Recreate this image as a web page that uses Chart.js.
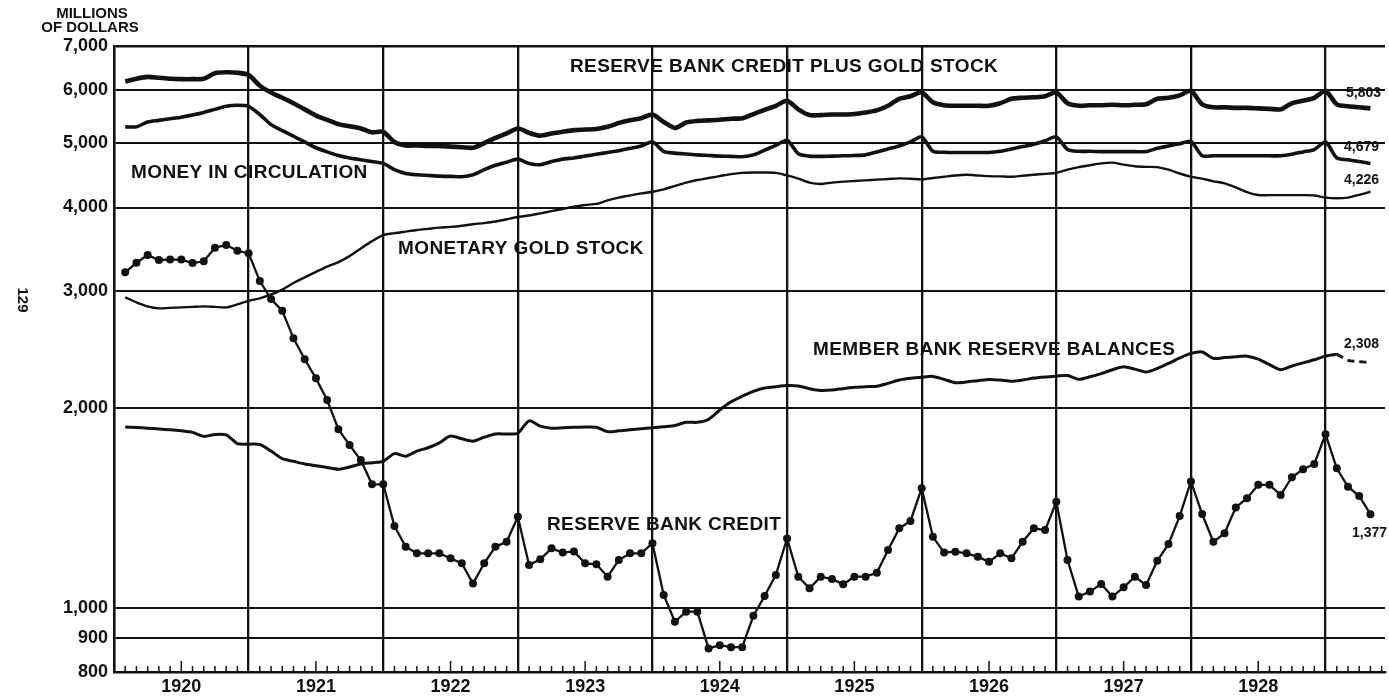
<!DOCTYPE html>
<html>
<head>
<meta charset="utf-8">
<title>Reserve bank credit, gold stock, money in circulation, 1920-1929</title>
<script src="https://cdn.jsdelivr.net/npm/chart.js@4.4.1/dist/chart.umd.min.js"></script>
<style>
    html, body { margin: 0; padding: 0; background: #fff; }
    #chart { display: block; }
</style>
</head>
<body>
<canvas id="chart" width="1389" height="697"></canvas>
<script>
// monthly figures, end of month, Jan 1920 .. Apr 1929 (millions of dollars)
const yearLabels = ["1920", "1921", "1922", "1923", "1924", "1925", "1926", "1927", "1928"];
const yTickValues = [800, 900, 1000, 2000, 3000, 4000, 5000, 6000, 7000];

const creditPlusGold = [
    6190, 6250, 6290, 6270, 6250, 6240, 6240, 6250, 6370, 6390, 6380, 6330,
    6100, 5960, 5850, 5740, 5620, 5500, 5420, 5340, 5300, 5260, 5190, 5200,
    5020, 4960, 4960, 4950, 4950, 4940, 4930, 4920, 5000, 5090, 5170, 5260,
    5180, 5130, 5170, 5200, 5230, 5240, 5250, 5290, 5360, 5410, 5450, 5520,
    5380, 5270, 5370, 5400, 5410, 5420, 5440, 5450, 5530, 5610, 5690, 5790,
    5620, 5510, 5510, 5520, 5520, 5530, 5560, 5600, 5690, 5830, 5880, 5960,
    5760, 5700, 5690, 5690, 5690, 5690, 5740, 5830, 5850, 5860, 5880, 5960,
    5740, 5690, 5700, 5700, 5710, 5700, 5710, 5720, 5830, 5850, 5900, 5990,
    5720, 5660, 5660, 5650, 5650, 5640, 5630, 5620, 5740, 5790, 5850, 5990,
    5720, 5680, 5660, 5640
];

const moneyInCirculation = [
    5290, 5290, 5380, 5410, 5440, 5470, 5510, 5560, 5620, 5680, 5700, 5680,
    5520, 5330, 5220, 5120, 5020, 4920, 4850, 4790, 4750, 4720, 4690, 4660,
    4560, 4500, 4480, 4470, 4460, 4455, 4450, 4480, 4560, 4630, 4680, 4730,
    4660, 4640, 4690, 4730, 4750, 4780, 4810, 4840, 4870, 4910, 4950, 5020,
    4860, 4830, 4815, 4800, 4790, 4780, 4775, 4770, 4800, 4880, 4960, 5050,
    4820, 4780, 4775, 4780, 4785, 4790, 4800, 4850, 4900, 4950, 5020, 5110,
    4860, 4845, 4840, 4840, 4840, 4840, 4860, 4900, 4940, 4980, 5040, 5110,
    4890, 4860, 4860, 4855, 4855, 4855, 4855, 4855, 4910, 4950, 4990, 5030,
    4785, 4785, 4785, 4785, 4785, 4785, 4785, 4785, 4810, 4850, 4890, 5020,
    4750, 4720, 4690, 4660
];

const goldStock = [
    2930, 2880, 2840, 2820, 2825, 2830, 2835, 2840, 2835, 2830, 2860, 2895,
    2920, 2960, 3010, 3080, 3140, 3200, 3260, 3310, 3380, 3470, 3560, 3636,
    3660, 3680, 3700, 3715, 3730, 3740, 3755, 3775, 3790, 3810, 3840, 3870,
    3890, 3920, 3950, 3980, 4010, 4035, 4050, 4100, 4140, 4170, 4200, 4224,
    4260, 4310, 4360, 4400, 4430, 4460, 4490, 4510, 4515, 4515, 4510, 4470,
    4420, 4360, 4340, 4360, 4375, 4385, 4395, 4405, 4415, 4425, 4420, 4410,
    4430, 4450, 4470, 4480, 4470, 4460, 4455, 4450, 4465, 4480, 4495, 4510,
    4560, 4600, 4630, 4660, 4673, 4640, 4615, 4605, 4600, 4560, 4500, 4451,
    4420, 4380, 4350, 4290, 4220, 4177, 4175, 4175, 4175, 4175, 4170, 4140,
    4130, 4140, 4180, 4224
];

const memberReserves = [
    1870, 1866, 1862, 1857, 1852, 1845, 1835, 1810, 1822, 1820, 1765, 1762,
    1760, 1720, 1675, 1660, 1645, 1635, 1625, 1615, 1628, 1645, 1652, 1660,
    1705, 1690, 1720, 1740, 1770, 1812, 1795, 1780, 1805, 1825, 1825, 1830,
    1910, 1875, 1862, 1865, 1868, 1870, 1868, 1840, 1845, 1852, 1858, 1865,
    1872, 1880, 1900, 1900, 1920, 1983, 2040, 2080, 2115, 2140, 2150, 2158,
    2155, 2135, 2122, 2125, 2135, 2145, 2150, 2153, 2175, 2200, 2213, 2222,
    2228, 2205, 2180, 2185, 2195, 2205, 2200, 2190, 2200, 2215, 2224, 2230,
    2235, 2206, 2225, 2250, 2280, 2304, 2285, 2262, 2290, 2330, 2375, 2413,
    2425, 2372, 2378, 2385, 2390, 2365, 2320, 2280, 2310, 2335, 2360, 2390,
    2403, 2355, 2345, 2337
];

const reserveBankCredit = [
    3195, 3303, 3392, 3335, 3340, 3340, 3300, 3320, 3480, 3512, 3443, 3413,
    3100, 2913, 2796, 2542, 2364, 2213, 2053, 1855, 1756, 1667, 1533, 1533,
    1327, 1235, 1207, 1207, 1207, 1186, 1166, 1087, 1166, 1235, 1256, 1370,
    1159, 1182, 1228, 1210, 1215, 1166, 1162, 1113, 1179, 1207, 1207, 1250,
    1045, 952, 986, 986, 868, 878, 872, 872, 972, 1041, 1120, 1271,
    1113, 1069, 1113, 1104, 1084, 1113, 1113, 1128, 1221, 1316, 1350, 1512,
    1278, 1210, 1214, 1207, 1193, 1172, 1207, 1186, 1256, 1316, 1308, 1443,
    1179, 1039, 1057, 1085, 1039, 1073, 1113, 1081, 1176, 1246, 1373, 1548,
    1383, 1256, 1294, 1415, 1461, 1530, 1530, 1477, 1571, 1615, 1645, 1823,
    1620, 1520, 1472, 1382
];

const INK = "#111";
const FONT = '"Liberation Sans", Arial, sans-serif';
const X_MAX = 113.3; // the printed sheet is cut off part way into 1929

function toPoints(values) {
    return values.map((v, i) => ({ x: i + 1, y: v }));
}

function formatThousands(v) {
    return Number(v).toLocaleString("en-US");
}

// white page behind everything
const paperPlugin = {
    id: "paper",
    beforeDraw(chart) {
        const { ctx, width, height } = chart;
        ctx.save();
        ctx.fillStyle = "#fff";
        ctx.fillRect(0, 0, width, height);
        ctx.restore();
    }
};

// small monthly ticks rising from the base line
const monthTicksPlugin = {
    id: "monthTicks",
    afterDraw(chart) {
        const { ctx, chartArea, scales } = chart;
        ctx.save();
        ctx.strokeStyle = INK;
        ctx.lineWidth = 1.5;
        for (let m = 1; m < scales.x.max; m++) {
            if (m % 12 === 0) continue;
            const x = scales.x.getPixelForValue(m);
            const len = m % 12 === 6 ? 11 : 6;
            ctx.beginPath();
            ctx.moveTo(x, chartArea.bottom);
            ctx.lineTo(x, chartArea.bottom - len);
            ctx.stroke();
        }
        ctx.restore();
    }
};

// captions written on the sheet
const captionsPlugin = {
    id: "captions",
    afterDraw(chart) {
        const { ctx } = chart;
        ctx.save();
        ctx.fillStyle = INK;
        ctx.textBaseline = "middle";

        ctx.font = `bold 15px ${FONT}`;
        ctx.textAlign = "center";
        ctx.fillText("MILLIONS", 92, 14);
        ctx.fillText("OF DOLLARS", 90, 28);

        ctx.font = `bold 19px ${FONT}`;
        ctx.textAlign = "left";
        ctx.letterSpacing = "0.4px";
        ctx.fillText("RESERVE BANK CREDIT PLUS GOLD STOCK", 570, 67);
        ctx.fillText("MONEY IN CIRCULATION", 131, 173);
        ctx.fillText("MONETARY GOLD STOCK", 398, 249);
        ctx.fillText("MEMBER BANK RESERVE BALANCES", 813, 350);
        ctx.fillText("RESERVE BANK CREDIT", 547, 525);

        ctx.letterSpacing = "0px";
        ctx.font = `bold 14px ${FONT}`;
        ctx.fillText("5,803", 1346, 93);
        ctx.fillText("4,679", 1344, 147);
        ctx.fillText("4,226", 1344, 180);
        ctx.fillText("2,308", 1344, 344);
        ctx.fillText("1,377", 1352, 533);

        ctx.translate(22, 300);
        ctx.rotate(Math.PI / 2);
        ctx.textAlign = "center";
        ctx.font = `bold 15px ${FONT}`;
        ctx.fillText("129", 0, 0);
        ctx.restore();
    }
};

function lineDataset(label, values, width) {
    return {
        label,
        data: toPoints(values),
        borderColor: INK,
        backgroundColor: INK,
        borderWidth: width,
        pointRadius: 0,
        tension: 0.25,
        fill: false
    };
}

const datasets = [
    lineDataset("Reserve bank credit plus gold stock", creditPlusGold, 4.6),
    lineDataset("Money in circulation", moneyInCirculation, 3.6),
    lineDataset("Monetary gold stock", goldStock, 2.4),
    {
        ...lineDataset("Member bank reserve balances", memberReserves, 3),
        segment: {
            borderDash: (ctx) => (ctx.p0.parsed.x >= 109 ? [7, 5] : undefined)
        }
    },
    {
        label: "Reserve bank credit",
        data: toPoints(reserveBankCredit),
        borderColor: INK,
        backgroundColor: INK,
        borderWidth: 2.3,
        pointRadius: 4,
        pointBackgroundColor: INK,
        pointBorderWidth: 0,
        tension: 0,
        fill: false
    }
];

new Chart(document.getElementById("chart"), {
    type: "line",
    data: { datasets },
    options: {
        responsive: false,
        devicePixelRatio: 1,
        animation: false,
        layout: { padding: { top: 46, right: 0, bottom: 0, left: 0 } },
        plugins: {
            legend: { display: false },
            tooltip: { enabled: false }
        },
        scales: {
            x: {
                type: "linear",
                min: 0,
                max: X_MAX,
                afterBuildTicks: (scale) => {
                    const ticks = [];
                    for (let v = 0; v <= yearLabels.length * 12; v += 6) ticks.push({ value: v });
                    scale.ticks = ticks;
                },
                afterFit: (scale) => {
                    scale.height = 25;
                    scale.paddingLeft = 0;
                    scale.paddingRight = 0;
                },
                ticks: {
                    autoSkip: false,
                    maxRotation: 0,
                    minRotation: 0,
                    padding: 4,
                    color: INK,
                    font: { family: FONT, size: 18, weight: "bold" },
                    callback: (value) => (value % 12 === 6 ? yearLabels[(value - 6) / 12] : "")
                },
                grid: {
                    drawTicks: false,
                    lineWidth: 2.3,
                    color: (ctx) => (ctx.tick && ctx.tick.value % 12 === 0 && ctx.tick.value > 0 ? INK : "rgba(0,0,0,0)")
                },
                border: { display: true, color: INK, width: 2.5 }
            },
            y: {
                type: "logarithmic",
                min: 800,
                max: 7000,
                afterBuildTicks: (scale) => {
                    scale.ticks = yTickValues.map((v) => ({ value: v }));
                },
                afterFit: (scale) => {
                    scale.width = 114;
                    scale.paddingTop = 0;
                    scale.paddingBottom = 0;
                },
                ticks: {
                    padding: 6,
                    color: INK,
                    font: { family: FONT, size: 18, weight: "bold" },
                    callback: (value) => formatThousands(value)
                },
                grid: {
                    drawTicks: false,
                    color: INK,
                    lineWidth: (ctx) => (ctx.tick && ctx.tick.value === 7000 ? 2.6 : 2)
                },
                border: { display: true, color: INK, width: 2.6 }
            }
        }
    },
    plugins: [paperPlugin, monthTicksPlugin, captionsPlugin]
});
</script>
</body>
</html>
